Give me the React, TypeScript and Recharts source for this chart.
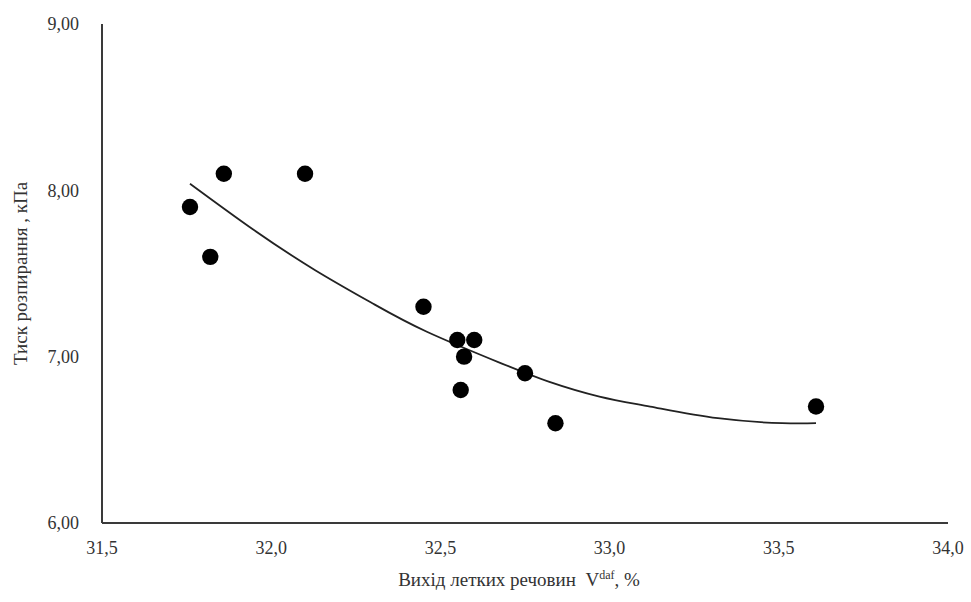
import React from 'react';
import { ComposedChart, Scatter, Line, XAxis, YAxis, Label } from 'recharts';

// measured points: volatile matter yield (%) vs. swelling pressure (kPa)
const volatileYield = [31.76, 31.86, 31.82, 32.1, 32.45, 32.55, 32.6, 32.57, 32.56, 32.75, 32.84, 33.61];
const pressure = [7.9, 8.1, 7.6, 8.1, 7.3, 7.1, 7.1, 7.0, 6.8, 6.9, 6.6, 6.7];

// trend curve
const trendX = [31.76, 31.95, 32.13, 32.3, 32.46, 32.68, 32.82, 32.97, 33.12, 33.32, 33.51, 33.61];
const trendY = [8.04, 7.76, 7.52, 7.32, 7.15, 6.96, 6.85, 6.76, 6.7, 6.63, 6.6, 6.6];

const xTicks = [31.5, 32.0, 32.5, 33.0, 33.5, 34.0];
const yTicks = [6, 7, 8, 9];

const points = volatileYield.map((x, i) => ({ x, y: pressure[i] }));
const trend = trendX.map((x, i) => ({ x, y: trendY[i] }));

const FONT = '"Liberation Serif", "Times New Roman", serif';
const AXIS_COLOR = '#3a3a3a';

const XTitle = (props: any) => {
  const { viewBox } = props;
  const cx = viewBox.x + viewBox.width / 2 - 6;
  const y = viewBox.y + 63;
  return (
    <text x={cx} y={y} textAnchor="middle" fontFamily={FONT} fontSize={19} fill="#333" style={{ whiteSpace: 'pre' }}>
      {'Вихід летких речовин  V'}
      <tspan fontSize={12} dy={-7}>daf</tspan>
      <tspan dy={7}>, %</tspan>
    </text>
  );
};

const App: React.FC = () => {
  return (
    <div style={{ position: 'fixed', left: 0, top: 0, width: 971, height: 602, background: '#fff', fontFamily: FONT }}>
      <ComposedChart width={971} height={602} margin={{ top: 24, right: 23, left: 0, bottom: 0 }}>
        <XAxis
          type="number"
          dataKey="x"
          domain={[31.5, 34]}
          ticks={xTicks}
          allowDataOverflow
          tickFormatter={(v: number) => v.toFixed(1).replace('.', ',')}
          tickLine={false}
          axisLine={{ stroke: AXIS_COLOR, strokeWidth: 2 }}
          tick={{ fill: '#333', fontSize: 18, style: { fontFamily: FONT } }}
          tickMargin={12}
          height={79}
        >
          <Label content={<XTitle />} />
        </XAxis>
        <YAxis
          type="number"
          dataKey="y"
          domain={[6, 9]}
          ticks={yTicks}
          allowDataOverflow
          tickFormatter={(v: number) => v.toFixed(2).replace('.', ',')}
          tickLine={false}
          axisLine={{ stroke: AXIS_COLOR, strokeWidth: 2 }}
          tick={{ fill: '#333', fontSize: 18, style: { fontFamily: FONT } }}
          tickMargin={17}
          width={102}
        >
          <Label
            value="Тиск розпирання , кПа"
            angle={-90}
            position="insideLeft"
            offset={20}
            style={{ textAnchor: 'middle', fontFamily: FONT, fontSize: 19, fill: '#333' }}
          />
        </YAxis>
        <Line
          data={trend}
          dataKey="y"
          type="natural"
          stroke="#222"
          strokeWidth={1.8}
          dot={false}
          activeDot={false}
          isAnimationActive={false}
        />
        <Scatter
          data={points}
          dataKey="y"
          fill="#000"
          shape={(p: any) => <circle cx={p.cx} cy={p.cy} r={8.2} fill="#000" />}
          isAnimationActive={false}
        />
      </ComposedChart>
    </div>
  );
};

export default App;
